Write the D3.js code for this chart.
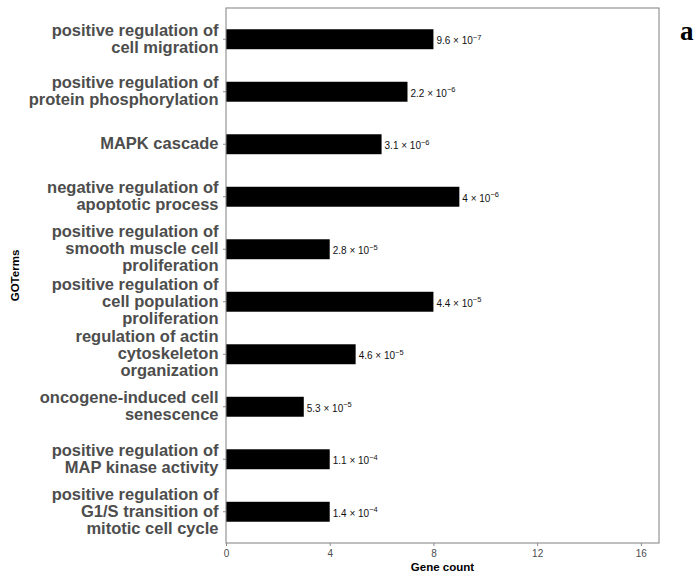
<!DOCTYPE html>
<html>
<head>
<meta charset="utf-8">
<script src="https://cdn.jsdelivr.net/npm/d3@7"></script>
<style>
  html, body { margin: 0; padding: 0; background: #fff; }
  svg { display: block; }
</style>
</head>
<body>
<svg id="chart" width="697" height="579"></svg>
<script>
// GO enrichment terms, top to bottom
const categories = [
  "positive regulation of\ncell migration",
  "positive regulation of\nprotein phosphorylation",
  "MAPK cascade",
  "negative regulation of\napoptotic process",
  "positive regulation of\nsmooth muscle cell\nproliferation",
  "positive regulation of\ncell population\nproliferation",
  "regulation of actin\ncytoskeleton\norganization",
  "oncogene-induced cell\nsenescence",
  "positive regulation of\nMAP kinase activity",
  "positive regulation of\nG1/S transition of\nmitotic cell cycle"
];
const geneCounts = [8, 7, 6, 9, 4, 8, 5, 3, 4, 4];
// p-values written as mantissa × 10^exponent
const pMantissa = ["9.6", "2.2", "3.1", "4", "2.8", "4.4", "4.6", "5.3", "1.1", "1.4"];
const pExponent = [-7, -6, -6, -6, -5, -5, -5, -5, -4, -4];
const xTicks = [0, 4, 8, 12, 16];
const xMax = 16.7;

const svg = d3.select("#chart");
const margin = { left: 226, right: 38, top: 8, bottom: 36 };
const W = 697, H = 579;
const plotW = W - margin.left - margin.right;
const plotH = H - margin.top - margin.bottom;

const g = svg.append("g").attr("transform", `translate(${margin.left},${margin.top})`);

const x = d3.scaleLinear().domain([0, xMax]).range([0, plotW]);
const y = d3.scaleBand().domain(categories).range([0, plotH])
  .paddingInner(0.62).paddingOuter(0.405);

// bars
g.selectAll("rect.bar").data(categories).enter().append("rect")
  .attr("class", "bar")
  .attr("x", x(0))
  .attr("y", d => y(d))
  .attr("height", y.bandwidth())
  .attr("width", (d, i) => x(geneCounts[i]) - x(0))
  .attr("fill", "#000");

// p-value labels
const fmt = n => (n < 0 ? "\u2212" + Math.abs(n) : String(n));
const lab = g.selectAll("text.pval").data(categories).enter().append("text")
  .attr("class", "pval")
  .attr("x", (d, i) => x(geneCounts[i]) + 3)
  .attr("y", d => y(d) + y.bandwidth() / 2 + 5)
  .attr("font-family", "Liberation Sans, Arial, sans-serif")
  .attr("font-size", 10)
  .attr("fill", "#111");
lab.append("tspan").text((d, i) => pMantissa[i] + " \u00d7 10");
lab.append("tspan").attr("dy", -4.5).attr("font-size", 7.5).text((d, i) => fmt(pExponent[i]));

// panel border
g.append("rect")
  .attr("x", 0).attr("y", 0).attr("width", plotW).attr("height", plotH)
  .attr("fill", "none").attr("stroke", "#8a8a8a").attr("stroke-width", 1.1);

// x axis
const xAxis = g.append("g").attr("transform", `translate(0,${plotH})`)
  .call(d3.axisBottom(x).tickValues(xTicks).tickSize(3).tickPadding(4).tickFormat(d3.format("d")));
xAxis.select(".domain").remove();
xAxis.selectAll("line").attr("stroke", "#8a8a8a");
xAxis.selectAll("text").attr("fill", "#4d4d4d").attr("font-size", 10)
  .attr("font-family", "Liberation Sans, Arial, sans-serif");

// y axis with wrapped term labels
const yAxis = g.append("g")
  .call(d3.axisLeft(y).tickSize(3).tickPadding(3).tickFormat(""));
yAxis.select(".domain").remove();
yAxis.selectAll("line").attr("stroke", "#8a8a8a");
const lineH = 17;
yAxis.selectAll(".tick").each(function(d) {
  const lines = d.split("\n");
  const t = d3.select(this).select("text")
    .attr("x", -7.5)
    .attr("fill", "#4d4d4d")
    .attr("font-family", "Liberation Sans, Arial, sans-serif")
    .attr("font-weight", "bold")
    .attr("font-size", 16.5)
    .attr("text-anchor", "end")
    .attr("dy", null)
    .attr("y", 0);
  lines.forEach((ln, k) => {
    t.append("tspan")
      .attr("x", -7.5)
      .attr("y", (k - (lines.length - 1) / 2) * lineH + 5)
      .text(ln);
  });
});

// axis titles
svg.append("text")
  .attr("x", margin.left + plotW / 2).attr("y", 571)
  .attr("text-anchor", "middle")
  .attr("font-family", "Liberation Sans, Arial, sans-serif")
  .attr("font-weight", "bold").attr("font-size", 11.5)
  .text("Gene count");
svg.append("text")
  .attr("transform", `translate(18.5,${margin.top + plotH / 2}) rotate(-90)`)
  .attr("text-anchor", "middle")
  .attr("font-family", "Liberation Sans, Arial, sans-serif")
  .attr("font-weight", "bold").attr("font-size", 11.5)
  .text("GOTerms");

// panel letter
svg.append("text")
  .attr("x", 680).attr("y", 40)
  .attr("font-family", "Liberation Serif, Times New Roman, serif")
  .attr("font-weight", "bold").attr("font-size", 27)
  .text("a");
</script>
</body>
</html>
